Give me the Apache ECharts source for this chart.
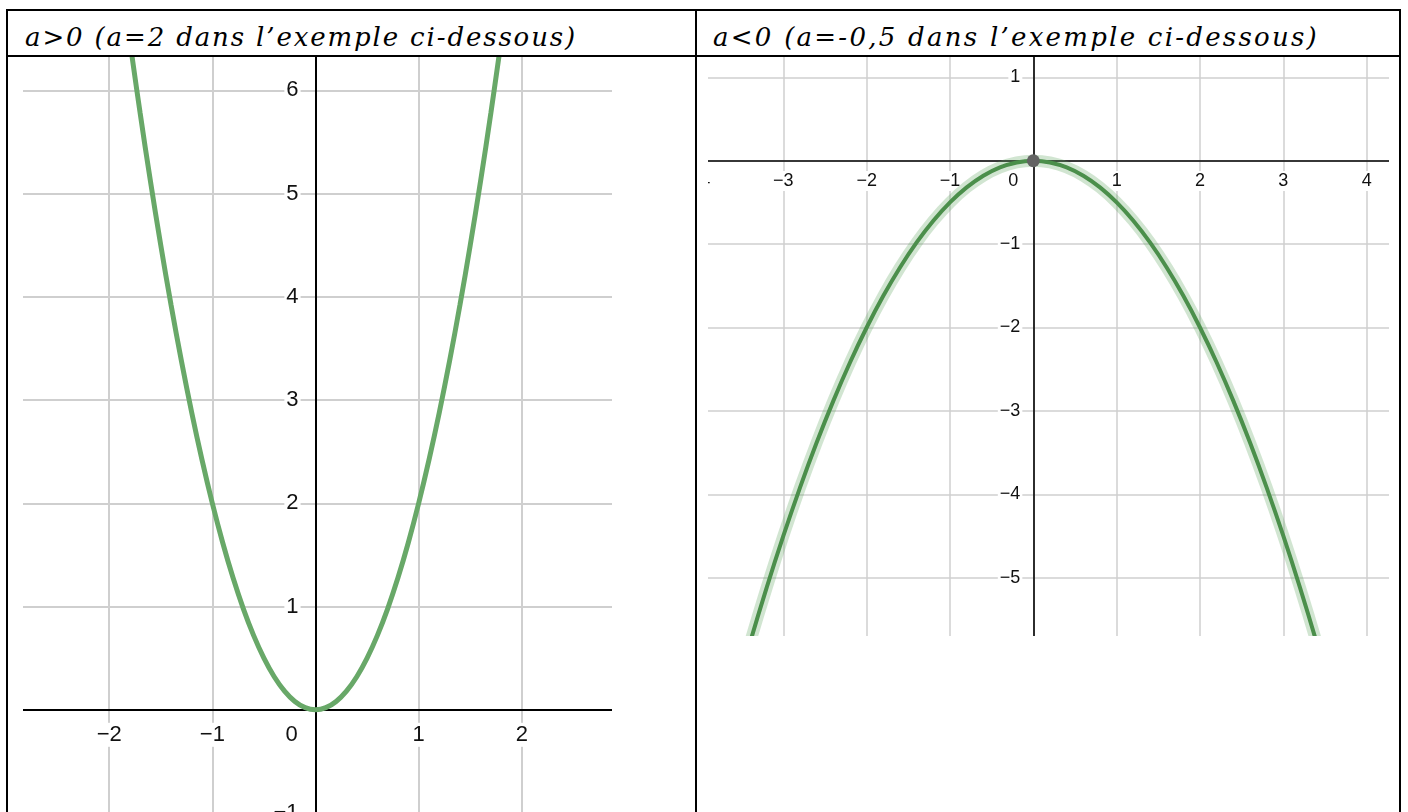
<!DOCTYPE html>
<html><head><meta charset="utf-8">
<script src="https://cdn.jsdelivr.net/npm/echarts@6/dist/echarts.min.js"></script>
<style>
html,body{margin:0;padding:0;background:#fff;width:1408px;height:812px;overflow:hidden;position:relative}
.ln{position:absolute;background:#000}
.clip{position:absolute;overflow:hidden}
.chart{position:absolute}
.hdr{position:absolute;font-family:"DejaVu Serif","Liberation Serif",serif;font-style:italic;font-size:26px;line-height:28px;white-space:nowrap;color:#000}
</style></head><body>
<div class="ln" style="left:6px;top:9px;width:1395px;height:2px"></div>
<div class="ln" style="left:6px;top:55px;width:1395px;height:2px"></div>
<div class="ln" style="left:6px;top:9px;width:2px;height:803px"></div>
<div class="ln" style="left:695px;top:9px;width:2px;height:803px"></div>
<div class="ln" style="left:1399px;top:9px;width:2px;height:803px"></div>
<div class="hdr" id="hl" style="left:25px;top:23px"></div>
<div class="hdr" id="hr" style="left:713px;top:23px"></div>
<div class="clip" style="left:23px;top:57px;width:589px;height:755px">
  <div class="chart" id="cl" style="left:-16.6px;top:-69.9px;width:619.2px;height:825.6px"></div>
</div>
<div class="clip" style="left:708px;top:57px;width:681px;height:579px">
  <div class="chart" id="cr" style="left:-8.3px;top:-63px;width:750px;height:666.7px"></div>
</div>
<script>
// ---- text ----
const headerLeft = "a>0 (a=2 dans l\u2019exemple ci-dessous)";
const headerRight = "a<0 (a=-0,5 dans l\u2019exemple ci-dessous)";

// ---- left panel (a = 2) : points ----
const leftX = [-1.8,-1.7,-1.6,-1.5,-1.4,-1.3,-1.2,-1.1,-1.0,-0.9,-0.8,-0.7,-0.6,-0.5,-0.4,-0.3,-0.2,-0.1,0,
               0.1,0.2,0.3,0.4,0.5,0.6,0.7,0.8,0.9,1.0,1.1,1.2,1.3,1.4,1.5,1.6,1.7,1.8];
const leftY = [6.48,5.78,5.12,4.5,3.92,3.38,2.88,2.42,2,1.62,1.28,0.98,0.72,0.5,0.32,0.18,0.08,0.02,0,
               0.02,0.08,0.18,0.32,0.5,0.72,0.98,1.28,1.62,2,2.42,2.88,3.38,3.92,4.5,5.12,5.78,6.48];
const leftXRange = [-3, 3];
const leftYRange = [-1, 7];

// ---- right panel (a = -0,5) ----
const rightX = [-3.6,-3.4,-3.2,-3.0,-2.8,-2.6,-2.4,-2.2,-2.0,-1.8,-1.6,-1.4,-1.2,-1.0,-0.8,-0.6,-0.4,-0.2,0,
                0.2,0.4,0.6,0.8,1.0,1.2,1.4,1.6,1.8,2.0,2.2,2.4,2.6,2.8,3.0,3.2,3.4,3.6];
const rightY = [-6.48,-5.78,-5.12,-4.5,-3.92,-3.38,-2.88,-2.42,-2,-1.62,-1.28,-0.98,-0.72,-0.5,-0.32,-0.18,-0.08,-0.02,0,
                -0.02,-0.08,-0.18,-0.32,-0.5,-0.72,-0.98,-1.28,-1.62,-2,-2.42,-2.88,-3.38,-3.92,-4.5,-5.12,-5.78,-6.48];
const rightXRange = [-4, 5];
const rightYRange = [-6, 2];
const vertex = [0, 0];

// headers
function fitHeader(id, text, target){
  const el = document.getElementById(id);
  el.textContent = text;
  const w0 = el.getBoundingClientRect().width;
  el.style.letterSpacing = ((target - w0) / text.length) + 'px';
}
fitHeader('hl', headerLeft, 552);
fitHeader('hr', headerRight, 606);

function pair(xs, ys){ return xs.map((x,i)=>[x, ys[i]]); }
function minus(v){ return v < 0 ? '\u2212' + Math.abs(v) : String(v); }

function axisCfg(range, otherRange, sizePx, otherSizePx, isX, s){
  const rich = {
    n:{fontFamily:'Liberation Sans, Arial, sans-serif', fontSize:s.font, color:'#111', backgroundColor:'#fff', padding:[1,2]},
    z:{fontFamily:'Liberation Sans, Arial, sans-serif', fontSize:s.font, color:'#111', padding: isX ? [1, s.zeroShift, 1, 0] : 0}
  };
  // move the axis from the grid edge onto the zero line of the other axis
  const pxPerUnit = otherSizePx / (otherRange[1] - otherRange[0]);
  const off = -(0 - otherRange[0]) * pxPerUnit;
  return {
    type:'value', min:range[0], max:range[1], interval:1,
    position: isX ? 'bottom' : 'left',
    offset: off,
    axisLine:{show:true, onZero:false, lineStyle:{color:'#000', width:s.axisW}},
    axisTick:{show:false},
    splitLine:{show:true, lineStyle:{color:'#cfcfcf', width:s.gridW}},
    axisLabel:{
      show:true, interval:0, showMinLabel:true, showMaxLabel:true, hideOverlap:false,
      margin: isX ? s.xMargin : s.yMargin,
      formatter: function(v){
        if (v === 0) return isX ? '{z|0}' : '';
        return '{n|' + minus(v) + '}';
      },
      rich: rich
    },
    z: 1
  };
}

function makeOption(xr, yr, w, h, s, series){
  return {
    animation:false,
    grid:{left:0, right:0, top:0, bottom:0, containLabel:false, outerBoundsMode:'none'},
    xAxis: axisCfg(xr, yr, w, h, true, s),
    yAxis: axisCfg(yr, xr, h, w, false, s),
    series: series
  };
}

const elL = document.getElementById('cl');
const cl = echarts.init(elL, null, {renderer:'canvas'});
cl.setOption(makeOption(leftXRange, leftYRange, elL.getBoundingClientRect().width, elL.getBoundingClientRect().height,
  {font:22, axisW:2, gridW:2, xMargin:13, yMargin:15, zeroShift:48},
  [{type:'line', data:pair(leftX, leftY), smooth:0.4, showSymbol:false, clip:true,
    lineStyle:{color:'#68a868', width:5}, z:3}]
));

const elR = document.getElementById('cr');
const cr = echarts.init(elR, null, {renderer:'canvas'});
cr.setOption(makeOption(rightXRange, rightYRange, elR.getBoundingClientRect().width, elR.getBoundingClientRect().height,
  {font:18, axisW:1.6, gridW:1.5, xMargin:10, yMargin:11, zeroShift:40},
  [
    {type:'line', data:pair(rightX, rightY), smooth:0.4, showSymbol:false, clip:true,
     lineStyle:{color:'rgba(90,160,90,0.28)', width:12}, z:3},
    {type:'line', data:pair(rightX, rightY), smooth:0.4, showSymbol:false, clip:true,
     lineStyle:{color:'#4b8f4b', width:4}, z:4},
    {type:'scatter', data:[vertex], symbolSize:13, itemStyle:{color:'#636363', opacity:1}, z:5}
  ]
));
</script>
</body></html>
